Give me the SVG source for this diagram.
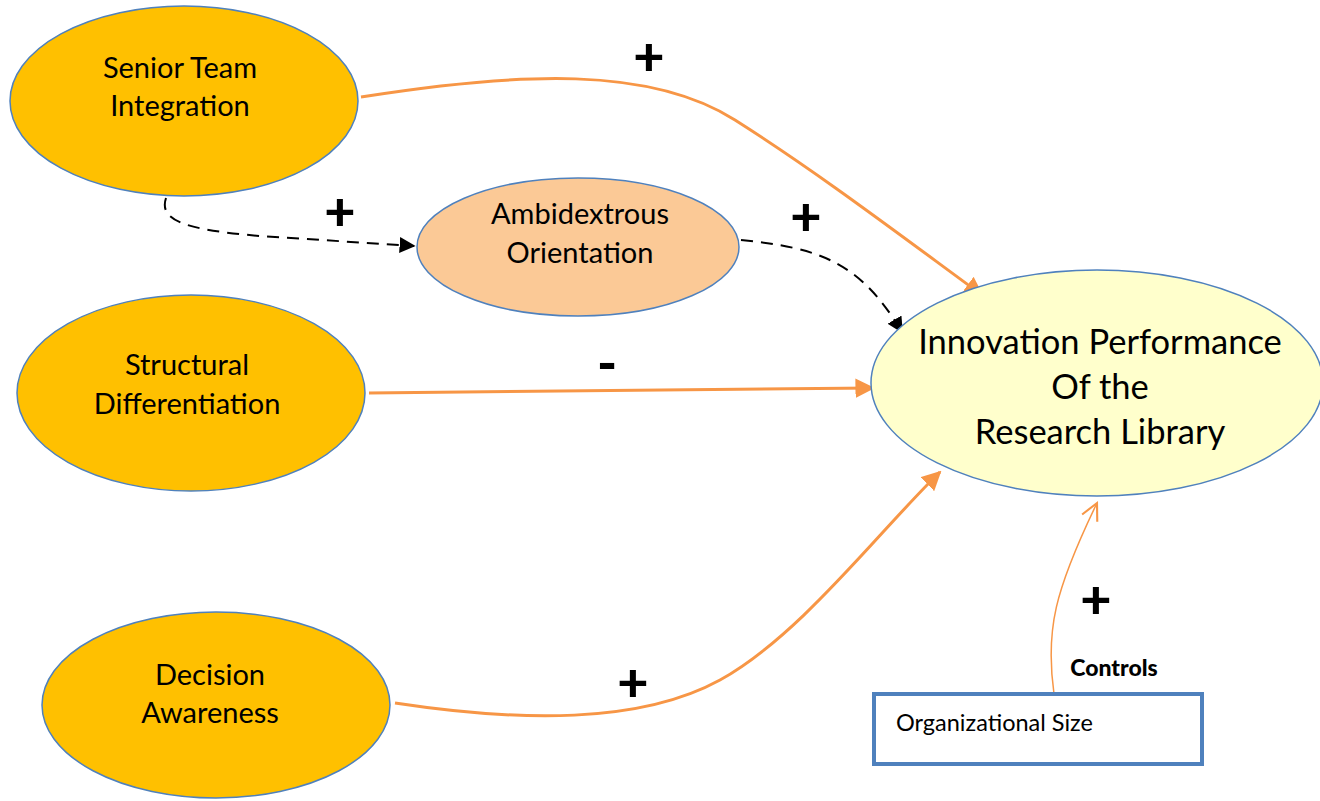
<svg xmlns="http://www.w3.org/2000/svg" width="1320" height="801" viewBox="0 0 1320 801">
<defs>
<style>
.n{stroke:#4f81bd;stroke-width:1.5}
.t{font-family:Lato,"Open Sans","Liberation Sans",sans-serif;fill:#000;text-anchor:middle}
.s{font-family:Lato,"Open Sans","Liberation Sans",sans-serif;font-weight:900;fill:#000;text-anchor:middle}
.o{fill:none;stroke:#f79646;stroke-width:3}
.d{fill:none;stroke:#000;stroke-width:2;stroke-dasharray:12 8}
</style>
<marker id="ao" viewBox="0 0 10 10" refX="9" refY="5" markerWidth="6.5" markerHeight="6.5" markerUnits="strokeWidth" orient="auto"><path d="M0,0 L10,5 L0,10 z" fill="#f79646"/></marker>
<marker id="ab" viewBox="0 0 10 10" refX="9" refY="5" markerWidth="8" markerHeight="8" markerUnits="strokeWidth" orient="auto"><path d="M0,0 L10,5 L0,10 z" fill="#000"/></marker>
<marker id="av" viewBox="0 0 10 10" refX="9" refY="5" markerWidth="14" markerHeight="14" markerUnits="strokeWidth" orient="auto"><path d="M1,1 L9,5 L1,9" fill="none" stroke="#f79646" stroke-width="1"/></marker>
</defs>
<rect width="1320" height="801" fill="#fff"/>
<g id="connectors">
<path class="o" d="M361,97 C520,72 650,66 735,120 S 900,235 982,295" marker-end="url(#ao)"/>
<path class="d" d="M166,198 C158,222 190,230 260,236 L414,246" marker-end="url(#ab)"/>
<path class="d" d="M741,240 C820,248 860,262 902,332" marker-end="url(#ab)"/>
<path class="o" d="M369,393 L873,388" marker-end="url(#ao)"/>
<path class="o" d="M395,703 C520,722 640,724 720,680 S 880,530 940,472" marker-end="url(#ao)"/>
<path d="M1054,694 C1045,630 1055,590 1097,503" fill="none" stroke="#f79646" stroke-width="1.5" marker-end="url(#av)"/>
</g>
<g id="senior"><ellipse class="n" cx="184" cy="101" rx="174" ry="95" fill="#ffc000"/>
<text class="t" x="180" y="78" font-size="29">Senior Team</text><text class="t" x="180" y="116" font-size="29">Integration</text></g>
<g id="ambidextrous"><ellipse class="n" cx="578" cy="247" rx="161" ry="69" fill="#fbc996"/>
<text class="t" x="580" y="224" font-size="29">Ambidextrous</text><text class="t" x="580" y="263" font-size="29">Orientation</text></g>
<g id="structural"><ellipse class="n" cx="191" cy="393" rx="174" ry="98" fill="#ffc000"/>
<text class="t" x="187" y="375" font-size="29">Structural</text><text class="t" x="187" y="414" font-size="29">Differentiation</text></g>
<g id="decision"><ellipse class="n" cx="216" cy="705" rx="174" ry="93" fill="#ffc000"/>
<text class="t" x="210" y="685" font-size="29">Decision</text><text class="t" x="210" y="723" font-size="29">Awareness</text></g>
<g id="innovation"><ellipse class="n" cx="1097" cy="383" rx="226" ry="113" fill="#ffffcc"/>
<text class="t" x="1100" y="354" font-size="34.5">Innovation Performance</text><text class="t" x="1100" y="399" font-size="34.5">Of the</text><text class="t" x="1100" y="444" font-size="34.5">Research Library</text></g>
<g id="orgsize"><rect x="874" y="694" width="328" height="70" fill="#fff" stroke="#4f81bd" stroke-width="4"/>
<text x="896" y="731" font-size="23.5" font-family="Lato,'Open Sans','Liberation Sans',sans-serif">Organizational Size</text></g>
<g id="labels">
<text class="s" x="649" y="75" font-size="54">+</text>
<text class="s" x="340" y="230" font-size="54">+</text>
<text class="s" x="806" y="235" font-size="54">+</text>
<text class="s" x="607" y="382" font-size="54">-</text>
<text class="s" x="633" y="701" font-size="54">+</text>
<text class="s" x="1096" y="618" font-size="54">+</text>
<text class="s" x="1114" y="676" font-size="23">Controls</text>
</g>
</svg>
